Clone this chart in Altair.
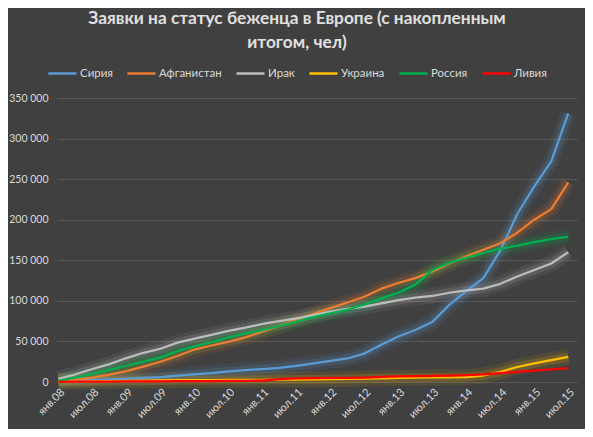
import altair as alt
import pandas as pd

# month index from Jan 2008 (0) to Jul 2015 (90), quarterly readings
months = list(range(0, 91, 3))

x_labels = ["янв.08", "июл.08", "янв.09", "июл.09", "янв.10", "июл.10", "янв.11", "июл.11",
            "янв.12", "июл.12", "янв.13", "июл.13", "янв.14", "июл.14", "янв.15", "июл.15"]

series_names = ["Сирия", "Афганистан", "Ирак", "Украина", "Россия", "Ливия"]
series_colors = ["#5b9bd5", "#ed7d31", "#bdbdbd", "#ffc000", "#00b050", "#ff0000"]

syria = [1000, 1800, 2500, 3300, 4200, 5000, 6000, 8000, 9500, 11000, 13000, 14500, 16000, 17500,
         20000, 23000, 26000, 29000, 35000, 46000, 56000, 64000, 74000, 95000, 112000, 128000,
         162000, 207000, 241000, 272000, 331000]
afghanistan = [500, 2800, 5500, 9000, 13500, 19000, 25000, 32000, 40000, 45000, 49500, 55000,
               62000, 69000, 76500, 84000, 91000, 98000, 105000, 115000, 122000, 128000, 136000,
               146000, 155000, 163000, 171000, 184000, 200000, 213000, 246000]
iraq = [4000, 9500, 16000, 22000, 29500, 36000, 41000, 48500, 53500, 58000, 63000, 67000, 71500,
        75000, 78500, 82500, 86700, 90000, 93000, 97000, 101000, 104000, 106000, 110000, 113000,
        115000, 121000, 130000, 138000, 146000, 160000]
ukraine = [200, 400, 700, 1200, 1500, 1800, 2000, 2200, 2300, 2400, 2500, 2600, 2700, 2800, 3000,
           3200, 3500, 3800, 4200, 4600, 5000, 5300, 5600, 5800, 6000, 8000, 12500, 18500, 23000,
           27000, 31000]
russia = [1500, 5500, 10000, 15000, 20000, 25000, 30000, 38000, 44000, 49000, 55000, 60000, 64000,
          69000, 74400, 80000, 84700, 89000, 95500, 103000, 110000, 120000, 138000, 147000, 153000,
          159000, 164000, 168000, 172500, 176000, 179000]
libya = [300, 400, 500, 600, 700, 800, 900, 1000, 1100, 1200, 1300, 1400, 1800, 3500, 4500, 4800,
         5000, 5200, 5500, 6300, 6800, 7200, 7600, 8000, 8600, 9500, 11000, 12500, 14000, 15500,
         17000]

all_values = [syria, afghanistan, iraq, ukraine, russia, libya]
rows = []
for name, vals in zip(series_names, all_values):
    for m, v in zip(months, vals):
        rows.append({"month": m, "value": v, "country": name})
df = pd.DataFrame(rows)

FONT = "Lato"
TXT = "#d9d9d9"

label_array = "[" + ",".join("'%s'" % s for s in x_labels) + "]"

x_enc = alt.X("month:Q",
              scale=alt.Scale(domain=[-0.26, 91.54], nice=False, zero=False),
              axis=alt.Axis(values=list(range(0, 91, 6)), labelExpr=label_array + "[round(datum.value/6)]",
                            labelAngle=-45, grid=False, ticks=False, domain=True, domainColor="#595959",
                            labelColor=TXT, labelFont=FONT, labelFontSize=11, labelPadding=4, title=None))
y_enc = alt.Y("value:Q",
              scale=alt.Scale(domain=[0, 350000], nice=False),
              axis=alt.Axis(values=list(range(0, 350001, 50000)),
                            labelExpr="replace(format(datum.value, ','), regexp(',', 'g'), ' ')",
                            grid=True, gridColor="#595959", gridWidth=1, ticks=False, domain=False,
                            labelColor=TXT, labelFont=FONT, labelFontSize=10.5, labelPadding=9, title=None))

legend = alt.Legend(orient="none", legendX=-10, legendY=-40, direction="horizontal", title=None,
                    symbolType="stroke", symbolSize=784, symbolStrokeWidth=2.5, symbolOpacity=1,
                    labelColor=TXT, labelFont=FONT, labelFontSize=11.5, labelOffset=2,
                    columnPadding=9)
color_enc = alt.Color("country:N", scale=alt.Scale(domain=series_names, range=series_colors),
                      sort=series_names, legend=legend)

base = alt.Chart(df).encode(x=x_enc, y=y_enc, color=color_enc)
glow_filter = alt.datum.country != "Ливия"

glow1 = base.transform_filter(glow_filter).mark_line(strokeWidth=16, opacity=0.09, strokeJoin="round")
glow2 = base.transform_filter(glow_filter).mark_line(strokeWidth=9, opacity=0.16, strokeJoin="round")
main = base.mark_line(strokeWidth=2.25, strokeJoin="round")

chart = alt.layer(glow1, glow2, main).properties(
    width=520, height=284,
    padding={"left": 49, "top": 90, "right": 8, "bottom": 47},
    autosize=alt.AutoSizeParams(type="none"),
    background="#404040",
    title=alt.TitleParams(
        text=["Заявки на статус беженца в Европе (с накопленным", "итогом, чел)"],
        anchor="middle", frame="group", dx=-20, offset=7, font=FONT, fontSize=17.3,
        fontWeight="bold", color="#e0e0e0", lineHeight=24),
).configure_view(stroke=None)

chart.save("out.html", embed_options={"renderer": "svg", "actions": False})
